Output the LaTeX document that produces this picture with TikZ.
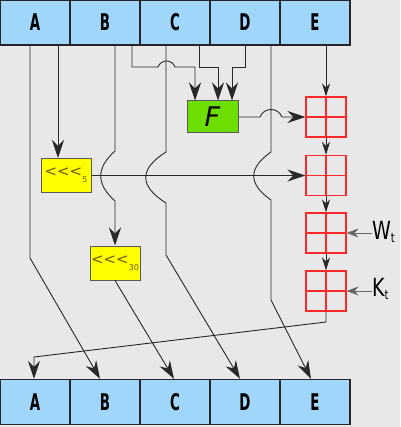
\documentclass[tikz,border=0pt]{standalone}
\usepackage{fontspec}
\setmainfont{DejaVu Sans}
\newfontfamily\regfont[FakeStretch=0.58]{DejaVu Sans}
\newfontfamily\labfont[FakeStretch=0.76]{DejaVu Sans}
\usetikzlibrary{arrows.meta}

\definecolor{backgray}{RGB}{232,232,232}
\definecolor{regblue}{RGB}{160,214,250}
\definecolor{fgreen}{RGB}{108,222,0}
\definecolor{rotyellow}{RGB}{255,255,0}
\definecolor{rottext}{RGB}{105,95,0}
\definecolor{wirecol}{RGB}{40,40,40}
\definecolor{addred}{RGB}{255,40,40}

\tikzset{
    reg/.style={draw=black!85, line width=1.4pt, fill=regblue, inner sep=0pt,
        minimum width=70pt, minimum height=45pt,
        font=\regfont\bfseries\fontsize{23}{23}\selectfont},
    rotbox/.style={draw=black!65, line width=1pt, fill=rotyellow, inner sep=0pt,
        minimum width=50pt, minimum height=34pt, text=rottext,
        font=\fontsize{15}{15}\selectfont},
    funcbox/.style={draw=black!65, line width=1pt, fill=fgreen, inner sep=0pt,
        minimum width=51pt, minimum height=32pt,
        font=\itshape\fontsize{27}{27}\selectfont},
    adder/.style={draw=addred, line width=1.1pt, minimum size=40pt, inner sep=0pt,
        path picture={\draw[addred, line width=1.1pt]
            (path picture bounding box.north) -- (path picture bounding box.south)
            (path picture bounding box.west) -- (path picture bounding box.east);}},
    lab/.style={inner sep=0pt, font=\labfont\fontsize{25}{25}\selectfont},
    wire/.style={draw=wirecol, line width=0.9pt},
    bigarrow/.style={wire, -{Stealth[length=18pt, width=12pt, inset=6pt]}},
    smallarrow/.style={wire, -{Stealth[length=13pt, width=8pt, inset=4pt]}},
    inarrow/.style={draw=black!60, line width=0.9pt, -{Stealth[length=12pt, width=9pt, inset=4pt]}},
}
\newcommand{\rotl}[1]{<{}<{}<\raisebox{-6pt}{\fontsize{8}{8}\selectfont #1}}
\newcommand{\subt}[1]{#1\raisebox{-3pt}{\fontsize{13}{13}\selectfont t}}

\begin{document}
\begin{tikzpicture}[x=1pt, y=-1pt]
    \path[use as bounding box, fill=backgray] (0,0) rectangle (400,427);
    % registers
    \node[reg] (inA) at (35,22.5) {A};
    \node[reg] (inB) at (105,22.5) {B};
    \node[reg] (inC) at (175,22.5) {C};
    \node[reg] (inD) at (245,22.5) {D};
    \node[reg] (inE) at (315,22.5) {E};
    \node[reg] (outA) at (35,402) {A};
    \node[reg] (outB) at (105,402) {B};
    \node[reg] (outC) at (175,402) {C};
    \node[reg] (outD) at (245,402) {D};
    \node[reg] (outE) at (315,402) {E};
    % round
    \node[rotbox] (rotfive) at (66,175.5) {\rotl{5}};
    \node[rotbox] (rotthirty) at (115,263) {\rotl{30}};
    \node[funcbox] (func) at (212.5,117) {F};
    \node[adder] (addF) at (326,117) {};
    \node[adder] (addA) at (326,175.5) {};
    \node[adder] (addW) at (326,233) {};
    \node[adder] (addK) at (326,291) {};
    \node[lab, anchor=base west] (wt) at (372,239) {\subt{W}};
    \node[lab, anchor=base west] (kt) at (372,296) {\subt{K}};
    % wires
    \draw[bigarrow] ([xshift=-5pt]inA.south) -- (30,258) -- ([xshift=-5pt]outB.north);
    \draw[bigarrow] ([xshift=23pt]inA.south) -- ([xshift=-8pt]rotfive.north);
    \draw[bigarrow] ([xshift=10pt]inB.south) -- (115,151)
        .. controls (96,168) and (96,184) .. (115,201) -- (rotthirty.north);
    \draw[bigarrow] ([xshift=27pt]inB.south) -- (132,67) -- (158,67)
        .. controls (161,59) and (172,59) .. (175,67) -- (195,67) -- ([xshift=-17.5pt]func.north);
    \draw[bigarrow] ([xshift=-9pt]inC.south) -- (166,152)
        .. controls (139,169) and (139,186) .. (166,203) -- (166,255) -- ([xshift=-5pt]outD.north);
    \draw[bigarrow] ([xshift=24pt]inC.south) -- (199,67) -- (218,67) -- ([xshift=5.5pt]func.north);
    \draw[bigarrow] (inD.south) -- (245,67) -- (232,67) -- ([xshift=19.5pt]func.north);
    \draw[bigarrow] ([xshift=26pt]inD.south) -- (271,152)
        .. controls (248,168) and (248,184) .. (271,200) -- (271,300) -- ([xshift=-4pt]outE.north);
    \draw[smallarrow] ([xshift=11pt]inE.south) -- (addF.north);
    \draw[bigarrow] (func.east) -- (260,117)
        .. controls (264,107) and (278,107) .. (282,117) -- (addF.west);
    \draw[bigarrow] (rotfive.east) -- (addA.west);
    \draw[bigarrow] (rotthirty.south) -- ([xshift=-1pt]outC.north);
    \draw[smallarrow] (addF) -- (addA);
    \draw[smallarrow] (addA) -- (addW);
    \draw[smallarrow] (addW) -- (addK);
    \draw[bigarrow] (addK.south) -- (326,322) -- (34,357) -- ([xshift=-1pt]outA.north);
    \draw[inarrow] (wt.west |- addW.east) -- (addW.east);
    \draw[inarrow] (kt.west |- addK.east) -- (addK.east);
\end{tikzpicture}
\end{document}
